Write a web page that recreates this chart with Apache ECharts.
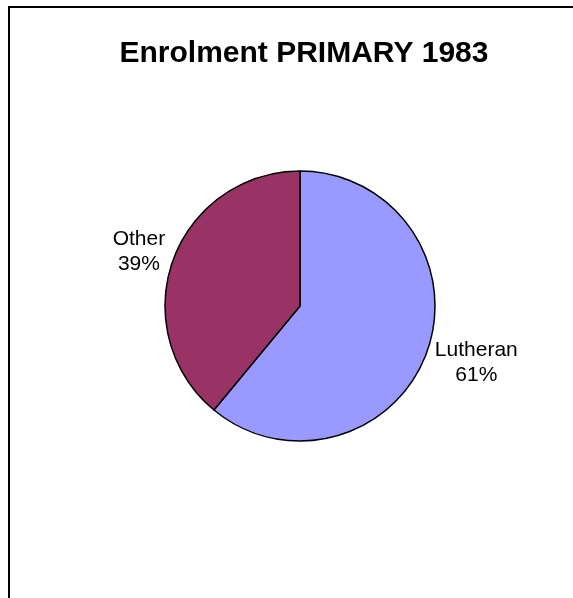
<!DOCTYPE html>
<html>
<head>
<meta charset="utf-8">
<script src="https://cdn.jsdelivr.net/npm/echarts@6/dist/echarts.min.js"></script>
<style>
  html, body { margin: 0; padding: 0; background: #fff; }
  #chart { width: 573px; height: 598px; }
</style>
</head>
<body>
<div id="chart"></div>
<script>
// data
var titleText = 'Enrolment PRIMARY 1983';
var categories = ['Lutheran', 'Other'];
var values = [61, 39];
var colors = ['#9999FF', '#993366'];

var myChart = echarts.init(document.getElementById('chart'));

var option = {
  backgroundColor: '#fff',
  animation: false,
  title: {
    text: titleText,
    left: 299,
    textAlign: 'center',
    top: 34,
    textStyle: {
      fontFamily: 'Liberation Sans, Arial, sans-serif',
      fontSize: 30,
      fontWeight: 'bold',
      color: '#000'
    }
  },
  graphic: [{
    type: 'rect',
    shape: { x: 9, y: 7, width: 700, height: 700 },
    style: { fill: 'none', stroke: '#000', lineWidth: 2 },
    silent: true
  }],
  series: [{
    type: 'pie',
    center: [300, 306],
    radius: 135,
    startAngle: 90,
    clockwise: true,
    percentPrecision: 0,
    data: categories.map(function (c, i) {
      return { name: c, value: values[i], itemStyle: { color: colors[i] } };
    }),
    itemStyle: { borderColor: '#000', borderWidth: 1.5 },
    emphasis: { disabled: true },
    label: {
      show: true,
      position: 'outside',
      formatter: '{b}\n{d}%',
      fontFamily: 'Liberation Sans, Arial, sans-serif',
      fontSize: 21,
      lineHeight: 25,
      color: '#000'
    },
    labelLine: { show: false, length: 3, length2: 0 },
    // centre each two-line label on its own box, nudge like the original
    labelLayout: function (p) {
      var r = p.labelRect;
      var right = p.align === 'left';
      return {
        x: r.x + r.width / 2,
        y: r.y + r.height / 2 + (right ? 10 : -8),
        align: 'center',
        verticalAlign: 'middle'
      };
    }
  }]
};

option && myChart.setOption(option);
</script>
</body>
</html>
